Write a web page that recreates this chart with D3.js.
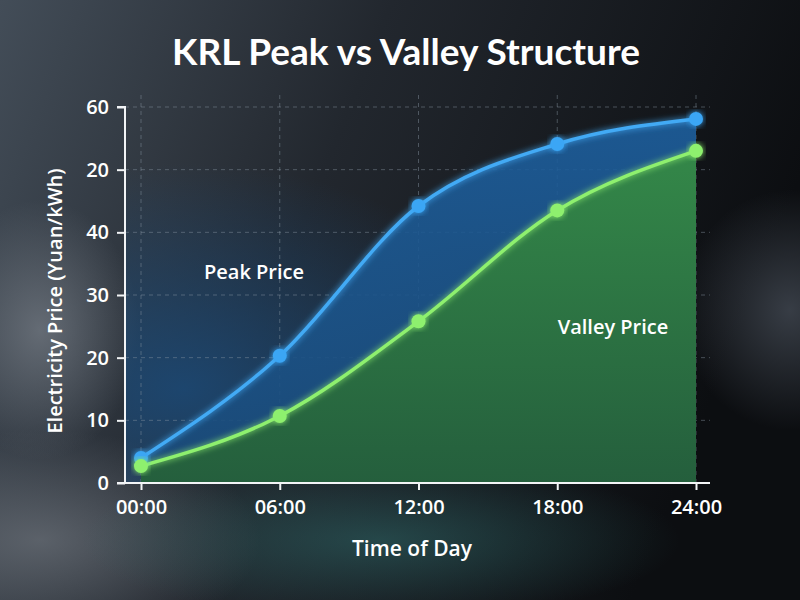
<!DOCTYPE html>
<html>
<head>
<meta charset="utf-8">
<script src="https://cdn.jsdelivr.net/npm/d3@7/dist/d3.min.js"></script>
<style>
  html, body { margin: 0; padding: 0; background: #15181c; }
  svg { display: block; }
  text { font-family: "Open Sans", "Noto Sans", sans-serif; fill: #fff; }
</style>
</head>
<body>
<div id="chart"></div>
<script>
'use strict';

// data
var hours = [0, 6, 12, 18, 24];
var hourLabels = ['00:00', '06:00', '12:00', '18:00', '24:00'];
var peakPrice = [4.0, 20.3, 44.2, 54.1, 58.1];
var valleyPrice = [2.7, 10.7, 25.8, 43.5, 53.0];
var yTicks = [0, 10, 20, 30, 40, 50, 60];
var yTickLabels = ['0', '10', '20', '30', '40', '20', '60'];

var width = 800, height = 600;
var svg = d3.select('#chart').append('svg')
  .attr('width', width)
  .attr('height', height);

var defs = svg.append('defs');

function radial(id, color, opacity) {
  var g = defs.append('radialGradient').attr('id', id);
  g.append('stop').attr('offset', '0%').attr('stop-color', color).attr('stop-opacity', opacity);
  g.append('stop').attr('offset', '100%').attr('stop-color', color).attr('stop-opacity', 0);
  return g;
}

// background gradients
var bg = defs.append('linearGradient').attr('id', 'bg')
  .attr('x1', 0).attr('y1', 0).attr('x2', 1).attr('y2', 0.3);
bg.append('stop').attr('offset', '0%').attr('stop-color', '#434d58');
bg.append('stop').attr('offset', '45%').attr('stop-color', '#22272e');
bg.append('stop').attr('offset', '100%').attr('stop-color', '#0c0e11');

radial('leftGlow', '#707780', 0.8);
radial('floorGlow', '#6a7078', 0.75);
radial('blob', '#3c424b', 0.9);
radial('reflect', '#2f6a6a', 0.55);

var plotTint = defs.append('radialGradient').attr('id', 'plotTint')
  .attr('cx', 0.1).attr('cy', 0.75).attr('r', 0.6);
plotTint.append('stop').attr('offset', '0%').attr('stop-color', '#1b4a78').attr('stop-opacity', 0.85);
plotTint.append('stop').attr('offset', '100%').attr('stop-color', '#1b4a78').attr('stop-opacity', 0);

var peakFill = defs.append('linearGradient').attr('id', 'peakFill')
  .attr('x1', 0).attr('y1', 0).attr('x2', 0).attr('y2', 1);
peakFill.append('stop').attr('offset', '0%').attr('stop-color', '#1d5f9e');
peakFill.append('stop').attr('offset', '100%').attr('stop-color', '#1a4a78');

var valleyFill = defs.append('linearGradient').attr('id', 'valleyFill')
  .attr('x1', 0).attr('y1', 0).attr('x2', 0).attr('y2', 1);
valleyFill.append('stop').attr('offset', '0%').attr('stop-color', '#358a45');
valleyFill.append('stop').attr('offset', '100%').attr('stop-color', '#25603a');

var glow = defs.append('filter').attr('id', 'glow')
  .attr('x', '-20%').attr('y', '-20%').attr('width', '140%').attr('height', '140%');
glow.append('feGaussianBlur').attr('stdDeviation', 3).attr('result', 'b');
var merge = glow.append('feMerge');
merge.append('feMergeNode').attr('in', 'b');
merge.append('feMergeNode').attr('in', 'SourceGraphic');

// background
svg.append('rect').attr('width', width).attr('height', height).attr('fill', 'url(#bg)');
svg.append('ellipse').attr('cx', 40).attr('cy', 330).attr('rx', 100).attr('ry', 130)
  .attr('fill', 'url(#leftGlow)');
svg.append('ellipse').attr('cx', 40).attr('cy', 540).attr('rx', 220).attr('ry', 110)
  .attr('fill', 'url(#floorGlow)');
svg.append('ellipse').attr('cx', 380).attr('cy', 540).attr('rx', 300).attr('ry', 80)
  .attr('fill', 'url(#reflect)');
svg.append('ellipse').attr('cx', 790).attr('cy', 310).attr('rx', 110).attr('ry', 120)
  .attr('fill', 'url(#blob)');

// scales
var x = d3.scaleLinear().domain([0, 24]).range([141, 696]);
var y = d3.scaleLinear().domain([0, 60]).range([483, 107]);
var left = 125, right = 710;

svg.append('rect').attr('x', left).attr('y', y(60)).attr('width', right - left)
  .attr('height', y(0) - y(60)).attr('fill', 'url(#plotTint)');

// grid
var grid = svg.append('g').attr('class', 'grid');
grid.selectAll('line.h').data(yTicks.slice(1)).enter().append('line')
  .attr('class', 'h')
  .attr('x1', left).attr('x2', right)
  .attr('y1', function (d) { return y(d); })
  .attr('y2', function (d) { return y(d); });
grid.selectAll('line.v').data(hours).enter().append('line')
  .attr('class', 'v')
  .attr('x1', function (d) { return x(d); })
  .attr('x2', function (d) { return x(d); })
  .attr('y1', y(60) - 12).attr('y2', y(0));
grid.selectAll('line')
  .attr('stroke', '#8a96a3').attr('stroke-opacity', 0.45)
  .attr('stroke-width', 1).attr('stroke-dasharray', '4,4');

var points = hours.map(function (h, i) {
  return { h: h, peak: peakPrice[i], valley: valleyPrice[i] };
});

var curve = d3.curveMonotoneX;

var peakArea = d3.area().curve(curve)
  .x(function (d) { return x(d.h); })
  .y0(y(0))
  .y1(function (d) { return y(d.peak); });
var valleyArea = d3.area().curve(curve)
  .x(function (d) { return x(d.h); })
  .y0(y(0))
  .y1(function (d) { return y(d.valley); });

svg.append('path').datum(points).attr('d', peakArea)
  .attr('fill', 'url(#peakFill)').attr('opacity', 0.9);
svg.append('path').datum(points).attr('d', valleyArea)
  .attr('fill', 'url(#valleyFill)').attr('opacity', 0.95);

var peakLine = d3.line().curve(curve)
  .x(function (d) { return x(d.h); })
  .y(function (d) { return y(d.peak); });
var valleyLine = d3.line().curve(curve)
  .x(function (d) { return x(d.h); })
  .y(function (d) { return y(d.valley); });

svg.append('path').datum(points).attr('d', peakLine)
  .attr('fill', 'none').attr('stroke', '#42aaf5').attr('stroke-width', 3.5)
  .attr('filter', 'url(#glow)');
svg.append('path').datum(points).attr('d', valleyLine)
  .attr('fill', 'none').attr('stroke', '#8ef06e').attr('stroke-width', 3.5)
  .attr('filter', 'url(#glow)');

svg.append('g').selectAll('circle').data(points).enter().append('circle')
  .attr('cx', function (d) { return x(d.h); })
  .attr('cy', function (d) { return y(d.peak); })
  .attr('r', 7).attr('fill', '#3aa6f5').attr('filter', 'url(#glow)');
svg.append('g').selectAll('circle').data(points).enter().append('circle')
  .attr('cx', function (d) { return x(d.h); })
  .attr('cy', function (d) { return y(d.valley); })
  .attr('r', 7).attr('fill', '#8ef06e').attr('filter', 'url(#glow)');

// axes
var xAxis = svg.append('g').attr('transform', 'translate(0,' + y(0) + ')')
  .call(d3.axisBottom(x).tickValues(hours)
    .tickFormat(function (d, i) { return hourLabels[i]; })
    .tickSize(7).tickPadding(10));
xAxis.select('.domain').attr('d', 'M' + (left - 8) + ',0H' + right);

var yAxis = svg.append('g').attr('transform', 'translate(' + left + ',0)')
  .call(d3.axisLeft(y).tickValues(yTicks)
    .tickFormat(function (d, i) { return yTickLabels[i]; })
    .tickSize(8).tickPadding(8));
yAxis.select('.domain').attr('d', 'M-8,' + y(60) + 'H0V' + y(0));

svg.selectAll('.tick line, .domain')
  .attr('stroke', '#f2f4f6').attr('stroke-width', 2);
svg.selectAll('.tick text')
  .attr('fill', '#fff')
  .style('font-family', '"Open Sans", sans-serif')
  .style('font-size', '20px').style('font-weight', 600);

// titles
svg.append('text').attr('x', 406).attr('y', 65)
  .attr('text-anchor', 'middle')
  .style('font-family', 'Lato, Inter, sans-serif')
  .style('font-size', '37px').style('font-weight', 700)
  .text('KRL Peak vs Valley Structure');

svg.append('text').attr('x', 412).attr('y', 556)
  .attr('text-anchor', 'middle')
  .style('font-size', '21px').style('font-weight', 600)
  .text('Time of Day');

svg.append('text')
  .attr('transform', 'translate(62,301) rotate(-90)')
  .attr('text-anchor', 'middle')
  .style('font-size', '20px').style('font-weight', 600)
  .text('Electricity Price (Yuan/kWh)');

svg.append('text').attr('x', 254).attr('y', 279)
  .attr('text-anchor', 'middle')
  .style('font-size', '20px').style('font-weight', 600)
  .text('Peak Price');

svg.append('text').attr('x', 613).attr('y', 334)
  .attr('text-anchor', 'middle')
  .style('font-size', '20px').style('font-weight', 600)
  .text('Valley Price');
</script>
</body>
</html>
